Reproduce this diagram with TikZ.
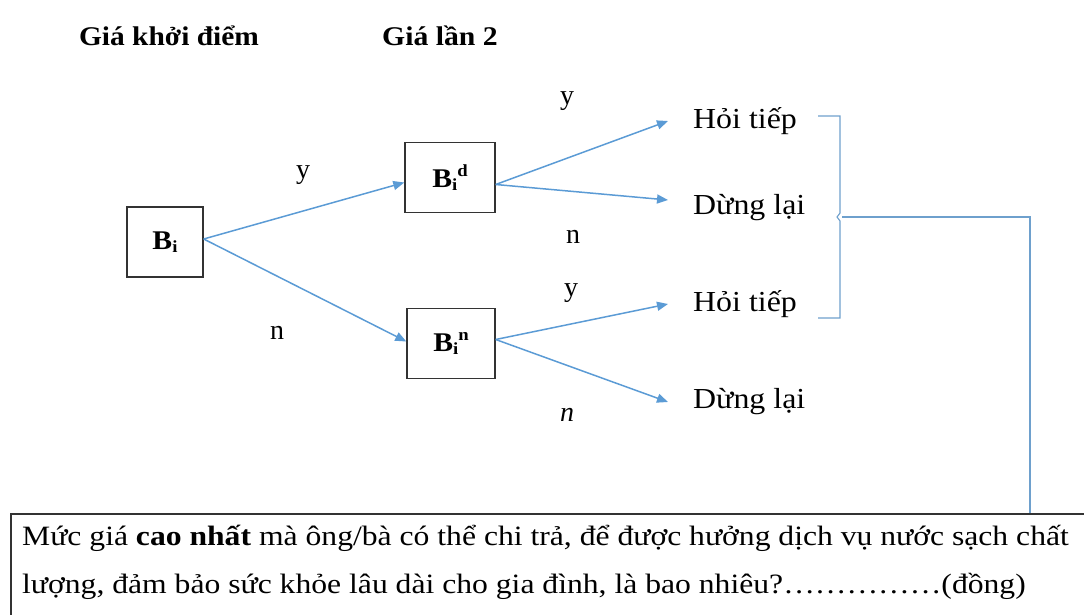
\documentclass[tikz,border=0pt]{standalone}
\usepackage{fontspec}
\setmainfont{Liberation Serif}
\usetikzlibrary{arrows.meta}
\definecolor{arrblue}{RGB}{91,155,213}
\definecolor{brblue}{RGB}{110,160,205}
\newcommand\xst[2]{\scalebox{#1}[1]{#2}}
\tikzset{
  boxnode/.style={draw=black!80,line width=1.4pt,minimum width=#1,minimum height=70pt,inner sep=0pt,font=\fontsize{27}{30}\selectfont\bfseries},
  arr/.style={draw=arrblue,line width=1.5pt,-{Triangle[length=11pt,width=9pt]}},
  lbl/.style={font=\fontsize{28}{30}\selectfont,inner sep=0pt},
  outc/.style={anchor=west,font=\fontsize{29}{32}\selectfont,inner xsep=25pt,inner ysep=0pt},
  head/.style={font=\fontsize{27}{30}\selectfont\bfseries,inner sep=0pt},
  brk/.style={draw=brblue,line width=1.1pt},
  qtext/.style={anchor=west,font=\fontsize{28}{30}\selectfont,inner sep=0pt},
}
\begin{document}
\begin{tikzpicture}[x=1pt,y=-1pt]
\useasboundingbox (0,0) rectangle (1084,615);
\clip (0,0) rectangle (1084,615);
% headers
\node[head] (h1) at (169,36) {\xst{1.09}{Giá khởi điểm}};
\node[head] (h2) at (440,36) {\xst{1.1}{Giá lần 2}};
% boxes
\node[boxnode=76pt] (bi) at (165,242) {\xst{1.1}{B\raisebox{-0.25ex}{\fontsize{17}{17}\selectfont i}}};
\node[boxnode=90pt] (bid) at (450,177.5) {\xst{1.1}{B\raisebox{-0.25ex}{\fontsize{17}{17}\selectfont i}\raisebox{0.9ex}{\fontsize{17}{17}\selectfont d}}};
\node[boxnode=88pt] (bin) at (451,343.5) {\xst{1.1}{B\raisebox{-0.25ex}{\fontsize{17}{17}\selectfont i}\raisebox{0.9ex}{\fontsize{17}{17}\selectfont n}}};
% outcomes
\node[outc] (o1) at (668,121) {\xst{1.1}{Hỏi tiếp}};
\node[outc] (o2) at (668,208) {\xst{1.1}{Dừng lại}};
\node[outc] (o3) at (668,304) {\xst{1.1}{Hỏi tiếp}};
\node[outc] (o4) at (668,402) {\xst{1.1}{Dừng lại}};
% arrows
\draw[arr] ([yshift=3pt]bi.east) -- ([yshift=-5pt]bid.west);
\draw[arr] ([yshift=3pt]bi.east) -- ([yshift=2pt]bin.west);
\draw[arr] ([yshift=-7pt]bid.east) -- (o1.west);
\draw[arr] ([yshift=-7pt]bid.east) -- ([yshift=8pt]o2.west);
\draw[arr] ([yshift=4pt]bin.east) -- (o3.west);
\draw[arr] ([yshift=4pt]bin.east) -- (o4.west);
% branch labels
\node[lbl] (l1) at (303,175) {y};
\node[lbl] (l2) at (277,333) {n};
\node[lbl] (l3) at (567,101) {y};
\node[lbl] (l4) at (573,237) {n};
\node[lbl] (l5) at (571,293) {y};
\node[lbl] (l6) at (567,415) {\textit{n}};
% bracket
\coordinate (bt) at (818,116);
\coordinate (bb) at (818,318);
\coordinate (cr) at (1030,217);
\draw[brk] (bt) -- (840,116) -- (840,213) -- (837,217) -- (840,221) -- (840,318) -- (bb);
% bottom box
\node[draw=black!80,line width=1.6pt,anchor=north west,minimum width=1100pt,minimum height=140pt,inner sep=0pt] (q) at (10,513) {};
\node[qtext] (q1) at (22,538) {\xst{1.13}{Mức giá \textbf{cao nhất} mà ông/bà có thể chi trả, để được hưởng dịch vụ nước sạch chất}};
\node[qtext] (q2) at (22,586) {\xst{1.13}{lượng, đảm bảo sức khỏe lâu dài cho gia đình, là bao nhiêu?……………(đồng)}};
\draw[brk] (842,217) -- (cr) -- (cr |- q.north);
\end{tikzpicture}
\end{document}
